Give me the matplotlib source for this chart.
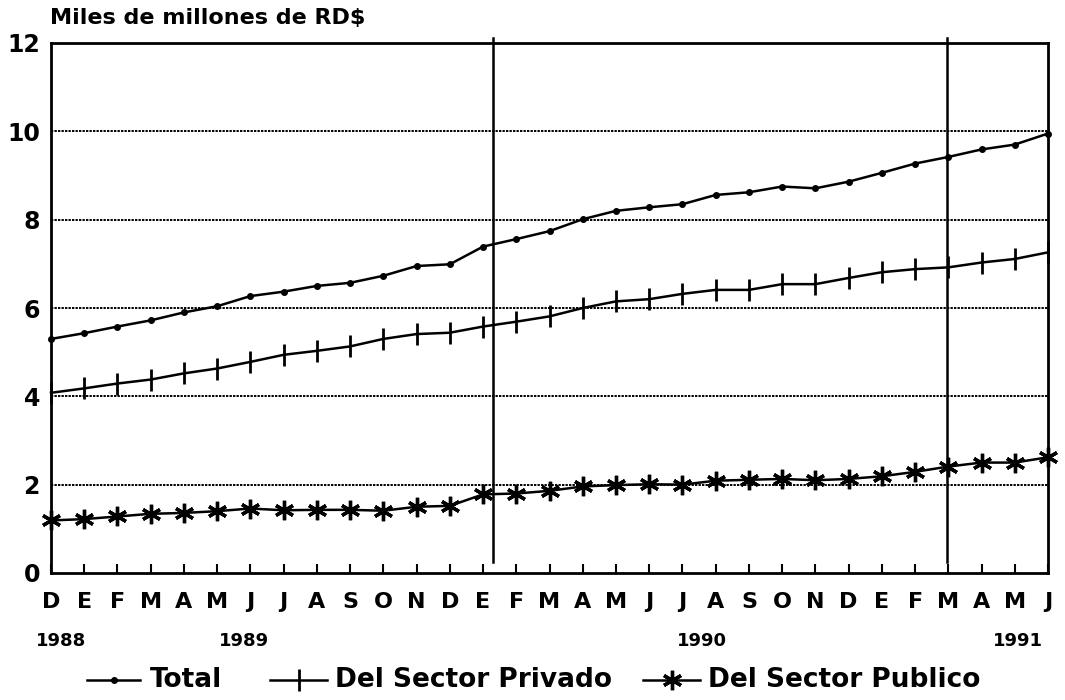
import matplotlib
matplotlib.use("Agg")
import matplotlib.pyplot as plt
from matplotlib.lines import Line2D

months = ["D", "E", "F", "M", "A", "M", "J", "J", "A", "S", "O", "N",
          "D", "E", "F", "M", "A", "M", "J", "J", "A", "S", "O", "N",
          "D", "E", "F", "M", "A", "M", "J"]

total = [5.30, 5.43, 5.58, 5.72, 5.90, 6.04, 6.27, 6.37, 6.50, 6.57, 6.73,
         6.95, 6.99, 7.39, 7.56, 7.74, 8.01, 8.20, 8.28, 8.35, 8.56, 8.62,
         8.75, 8.71, 8.86, 9.06, 9.27, 9.42, 9.59, 9.70, 9.95]

privado = [4.08, 4.18, 4.29, 4.38, 4.52, 4.63, 4.78, 4.94, 5.03, 5.13, 5.30,
           5.41, 5.44, 5.58, 5.69, 5.81, 6.00, 6.15, 6.20, 6.32, 6.41, 6.41,
           6.54, 6.54, 6.68, 6.81, 6.88, 6.92, 7.03, 7.11, 7.26]

publico = [1.19, 1.22, 1.28, 1.34, 1.36, 1.40, 1.46, 1.42, 1.43, 1.43, 1.41,
           1.50, 1.52, 1.78, 1.80, 1.86, 1.96, 1.99, 2.01, 2.00, 2.09, 2.11,
           2.13, 2.10, 2.13, 2.19, 2.29, 2.41, 2.50, 2.50, 2.62]

years = ["1988", "1989", "1990", "1991"]
year_pos = [0.3, 5.8, 19.6, 29.1]
vlines = [13.3, 26.95]
yticks = [0, 2, 4, 6, 8, 10, 12]

FONT = "DejaVu Sans"
plt.rcParams["font.family"] = FONT
plt.rcParams["font.weight"] = "bold"

fig = plt.figure(figsize=(10.65, 7.0), dpi=100)
ax = fig.add_axes([51 / 1065, 1 - 573 / 700, (1048 - 51) / 1065, (573 - 43) / 700])

x = list(range(len(months)))
lw = 1.8
ax.plot(x, total, color="black", lw=lw, marker="o", ms=4, clip_on=False, zorder=5)
ax.plot(x, privado, color="black", lw=lw, marker="|", ms=16, mew=2.0, clip_on=False, zorder=5)
ax.plot(x, publico, color="black", lw=lw, marker=(6, 2, 0), ms=14, mew=2.4, clip_on=False, zorder=5)

for v in vlines:
    ax.plot([v, v], [0.25, 12.12], color="black", lw=1.8, clip_on=False, zorder=4)

ax.set_xlim(0, len(months) - 1)
ax.set_ylim(0, 12)
ax.set_yticks(yticks)
ax.set_yticklabels([str(t) for t in yticks], fontsize=17, fontweight="bold")
ax.tick_params(axis="y", length=0, pad=8)
ax.set_xticks(x)
ax.set_xticklabels(months, fontsize=16, fontweight="bold")
ax.tick_params(axis="x", direction="in", length=6.5, width=1.5, pad=14)

for t in yticks[1:-1]:
    ax.axhline(t, color="black", lw=1.4, ls=(0, (1.2, 0.6)), zorder=1)

for s in ax.spines.values():
    s.set_linewidth(2.0)

for yr, p in zip(years, year_pos):
    ax.text(p, -1.55, yr, ha="center", va="center", fontsize=13, fontweight="bold",
            transform=ax.transData)

fig.text(50 / 1065, 1 - 18 / 700, "Miles de millones de RD$", fontsize=16,
         fontweight="bold", ha="left", va="center")

# legend
legend_items = [
    ("Total", dict(marker="o", ms=4), 87, 140, 150),
    ("Del Sector Privado", dict(marker="|", ms=16, mew=2.0), 270, 327, 335),
    ("Del Sector Publico", dict(marker=(6, 2, 0), ms=14, mew=2.4), 643, 700, 708),
]
ly = 1 - 680 / 700
for label, mk, x0, x1, tx in legend_items:
    ln = Line2D([x0 / 1065, (x0 + x1) / 2 / 1065, x1 / 1065], [ly, ly, ly],
                transform=fig.transFigure, color="black", lw=lw, markevery=[1], **mk)
    fig.add_artist(ln)
    fig.text(tx / 1065, ly, label, fontsize=19, fontweight="bold", ha="left", va="center")

fig.savefig("out.png", dpi=100)
